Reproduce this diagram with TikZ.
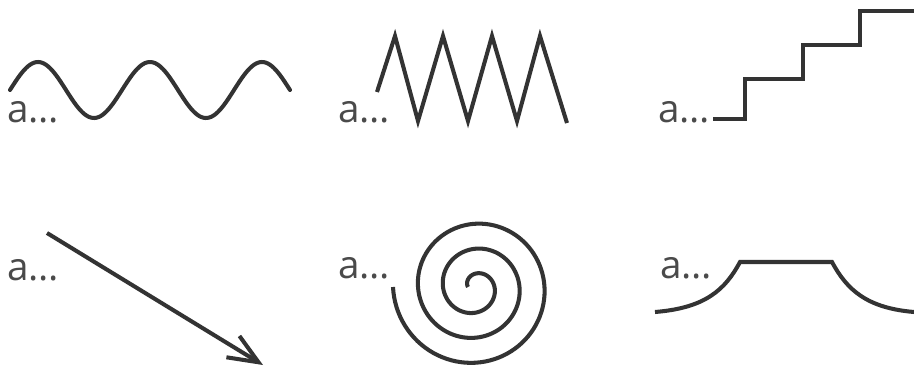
\documentclass[tikz,border=0pt]{standalone}
\usepackage{fontspec}
\setmainfont{Open Sans}
\usetikzlibrary{arrows.meta}
\definecolor{ink}{HTML}{333333}
\definecolor{txt}{HTML}{4A4A4A}
\begin{document}
\begin{tikzpicture}[x=0.02cm,y=-0.02cm,
	curve/.style={draw=ink,line width=2.3pt},
	lbl/.style={anchor=base west,inner sep=0pt,text=txt,font=\fontsize{22}{22}\selectfont}]
	\useasboundingbox (0,0) rectangle (914,369);
	% labels
	\node[lbl] (a1) at (7,122) {a…};
	\node[lbl] (a2) at (338,122) {a…};
	\node[lbl] (a3) at (658,122) {a…};
	\node[lbl] (a4) at (7,280) {a…};
	\node[lbl] (a5) at (338,278) {a…};
	\node[lbl] (a6) at (660,278) {a…};
	% wave
	\draw[curve,line cap=round] plot[domain=10:290,samples=140] (\x,{90-28*sin(3.2143*(\x-10))});
	% zigzag
	\draw[curve] (377,92) -- (395,36) -- (418,121) -- (443,36) -- (468,121) -- (492,36) -- (517,121) -- (540,36) -- (567,123);
	% stairs
	\draw[curve] (713,119) -| (745,79) -| (803,45) -| (860,11) -- (914,11);
	% arrow
	\draw[curve,-{Straight Barb[length=0.6cm,width=0.5cm]}] (47,233) -- (263,365);
	% spiral
	\draw[curve] plot[domain=180:1260,samples=300]
		({475+(82-(\x-180)/14.4)*cos(\x)},{287-(82-(\x-180)/14.4)*sin(\x)});
	% bump
	\draw[curve] (655,312) .. controls (705,308) and (725,290) .. (740,262) -- (832,262)
		.. controls (847,290) and (867,308) .. (914,312);
\end{tikzpicture}
\end{document}
